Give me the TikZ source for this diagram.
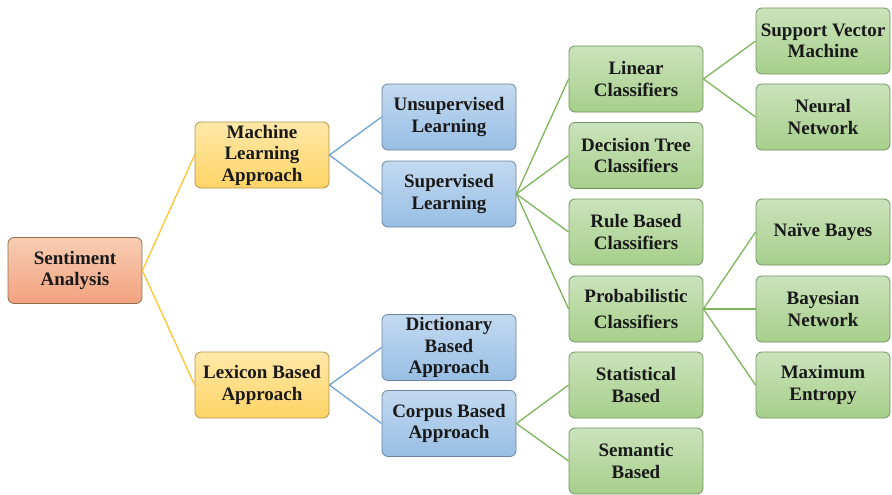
\documentclass[tikz,border=0pt]{standalone}
\usepackage{fontspec}
\setmainfont{Liberation Serif}
\begin{document}
\begin{tikzpicture}[x=1pt,y=-1pt,
  box/.style={rounded corners=6pt, minimum width=134pt, minimum height=66pt,
    inner sep=2pt, align=center, text=black!90,
    font=\fontsize{19}{21.5}\selectfont\bfseries, line width=0.8pt},
  rootbox/.style={box, draw=black!35!orange!40!gray, top color=salmonA, bottom color=salmonB},
  yellowbox/.style={box, draw=black!30!yellowB, top color=yellowA, bottom color=yellowB},
  bluebox/.style={box, draw=black!30!blueB, top color=blueA, bottom color=blueB},
  greenbox/.style={box, draw=black!30!greenB, top color=greenA, bottom color=greenB},
  ylink/.style={draw=linkY, line width=1.3pt},
  blink/.style={draw=linkB, line width=1.3pt},
  glink/.style={draw=linkG, line width=1.3pt}]
\definecolor{salmonA}{HTML}{F8CDB3}
\definecolor{salmonB}{HTML}{F2A27F}
\definecolor{yellowA}{HTML}{FFE8A8}
\definecolor{yellowB}{HTML}{FFD466}
\definecolor{blueA}{HTML}{C3DAF0}
\definecolor{blueB}{HTML}{98BEE4}
\definecolor{greenA}{HTML}{CBE3BC}
\definecolor{greenB}{HTML}{A6CF8B}
\definecolor{linkY}{HTML}{FFC530}
\definecolor{linkB}{HTML}{6FA3D6}
\definecolor{linkG}{HTML}{7DB65A}
\useasboundingbox (0,0) rectangle (892,495);

% root
\node[rootbox] (sa) at (75,270.5) {Sentiment\\Analysis};
% level 1
\node[yellowbox] (ml) at (262,155) {Machine\\Learning\\Approach};
\node[yellowbox] (lex) at (262,385) {Lexicon Based\\Approach};
% level 2
\node[bluebox] (uns) at (449,117) {Unsupervised\\Learning};
\node[bluebox] (sup) at (449,194) {Supervised\\Learning};
\node[bluebox] (dict) at (449,347.5) {Dictionary\\Based\\Approach};
\node[bluebox] (corp) at (449,423.5) {Corpus Based\\Approach};
% level 3
\node[greenbox] (lin) at (636,79) {Linear\\Classifiers};
\node[greenbox] (dt) at (636,155.5) {Decision Tree\\Classifiers};
\node[greenbox] (rule) at (636,232) {Rule Based\\Classifiers};
\node[greenbox] (prob) at (636,309) {Probabilistic\\[5pt]Classifiers};
\node[greenbox] (stat) at (636,385) {Statistical\\Based};
\node[greenbox] (sem) at (636,461) {Semantic\\Based};
% level 4
\node[greenbox] (svm) at (823,41) {Support Vector\\Machine};
\node[greenbox] (nn) at (823,117) {Neural\\Network};
\node[greenbox] (nb) at (823,232) {Naïve Bayes};
\node[greenbox] (bn) at (823,309) {Bayesian\\Network};
\node[greenbox] (me) at (823,385) {Maximum\\Entropy};

% connectors
\foreach \c in {ml,lex} \draw[ylink] (sa.east) -- (\c.west);
\foreach \c in {uns,sup} \draw[blink] (ml.east) -- (\c.west);
\foreach \c in {dict,corp} \draw[blink] (lex.east) -- (\c.west);
\foreach \c in {lin,dt,rule,prob} \draw[glink] (sup.east) -- (\c.west);
\foreach \c in {stat,sem} \draw[glink] (corp.east) -- (\c.west);
\foreach \c in {svm,nn} \draw[glink] (lin.east) -- (\c.west);
\foreach \c in {nb,bn,me} \draw[glink] (prob.east) -- (\c.west);
\end{tikzpicture}
\end{document}
